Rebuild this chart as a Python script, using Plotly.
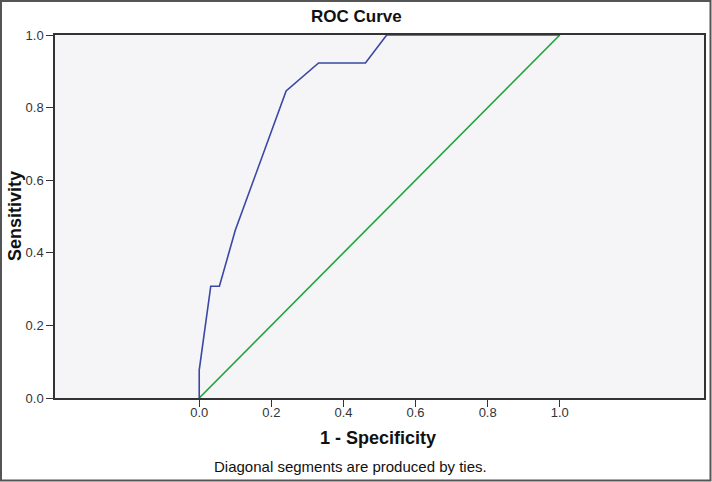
import plotly.graph_objects as go

# ROC curve points (1 - specificity, sensitivity)
roc_fpr = [0.0, 0.0, 0.032, 0.056, 0.100, 0.241, 0.331, 0.461, 0.520, 1.0]
roc_tpr = [0.0, 0.077, 0.308, 0.308, 0.462, 0.846, 0.923, 0.923, 1.0, 1.0]

# Reference diagonal
ref_x = [0.0, 1.0]
ref_y = [0.0, 1.0]

x_ticks = [0.0, 0.2, 0.4, 0.6, 0.8, 1.0]
y_ticks = [0.0, 0.2, 0.4, 0.6, 0.8, 1.0]

title_text = "ROC Curve"
x_title = "1 - Specificity"
y_title = "Sensitivity"
footnote = "Diagonal segments are produced by ties."

FONT = "Liberation Sans, Arial, sans-serif"

fig = go.Figure()
fig.add_trace(go.Scatter(x=ref_x, y=ref_y, mode="lines",
                         line=dict(color="#1fa53a", width=1.6),
                         hoverinfo="skip", showlegend=False))
fig.add_trace(go.Scatter(x=roc_fpr, y=roc_tpr, mode="lines",
                         line=dict(color="#3a47a3", width=1.6),
                         showlegend=False))

W, H = 712, 482
L, R, T, B = 55, 8, 35, 84
pw, ph = W - L - R, H - T - B

def px(xp):
    return (xp - L) / pw

def py(yp):
    return (H - B - yp) / ph

fig.update_layout(
    width=W, height=H,
    margin=dict(l=L, r=R, t=T, b=B, pad=0),
    paper_bgcolor="white",
    plot_bgcolor="#f5f5f7",
    font=dict(family=FONT, size=13, color="#333333"),
    showlegend=False,
    xaxis=dict(range=[-0.4, 1.4], tickvals=x_ticks,
               ticktext=[f"{v:.1f}" for v in x_ticks],
               showgrid=False, zeroline=False, automargin=False,
               showline=True, linecolor="#333333", linewidth=1.5, mirror=True,
               ticks="outside", ticklen=7, tickcolor="#333333", tickwidth=1,
               ticklabelstandoff=-5,
               tickfont=dict(size=13, color="#333333")),
    yaxis=dict(range=[0, 1], tickvals=y_ticks,
               ticktext=[f"{v:.1f}" for v in y_ticks],
               showgrid=False, zeroline=False, automargin=False,
               showline=True, linecolor="#333333", linewidth=1.5, mirror=True,
               ticks="outside", ticklen=7, tickcolor="#333333", tickwidth=1,
               tickfont=dict(size=13, color="#333333")),
    annotations=[
        dict(text=f"<b>{title_text}</b>", xref="paper", yref="paper",
             x=px(356), y=py(17), xanchor="center", yanchor="middle",
             showarrow=False, font=dict(size=17, color="#111111", family=FONT)),
        dict(text=f"<b>{x_title}</b>", xref="paper", yref="paper",
             x=px(378), y=py(438), xanchor="center", yanchor="middle",
             showarrow=False, font=dict(size=18, color="#111111", family=FONT)),
        dict(text=f"<b>{y_title}</b>", xref="paper", yref="paper",
             x=px(15), y=py(216), xanchor="center", yanchor="middle",
             textangle=-90,
             showarrow=False, font=dict(size=18, color="#111111", family=FONT)),
        dict(text=footnote, xref="paper", yref="paper",
             x=px(350), y=py(466), xanchor="center", yanchor="middle",
             showarrow=False, font=dict(size=15, color="#111111", family=FONT)),
    ],
    shapes=[
        dict(type="rect", xref="paper", yref="paper",
             x0=px(1), x1=px(710.5), y0=py(480.5), y1=py(1),
             line=dict(color="#555555", width=2), fillcolor="rgba(0,0,0,0)",
             layer="above"),
    ],
)

fig.write_html(
    "out.html",
    config={"displayModeBar": False},
    post_script="document.body.style.margin='0';document.body.style.overflow='hidden';",
)
